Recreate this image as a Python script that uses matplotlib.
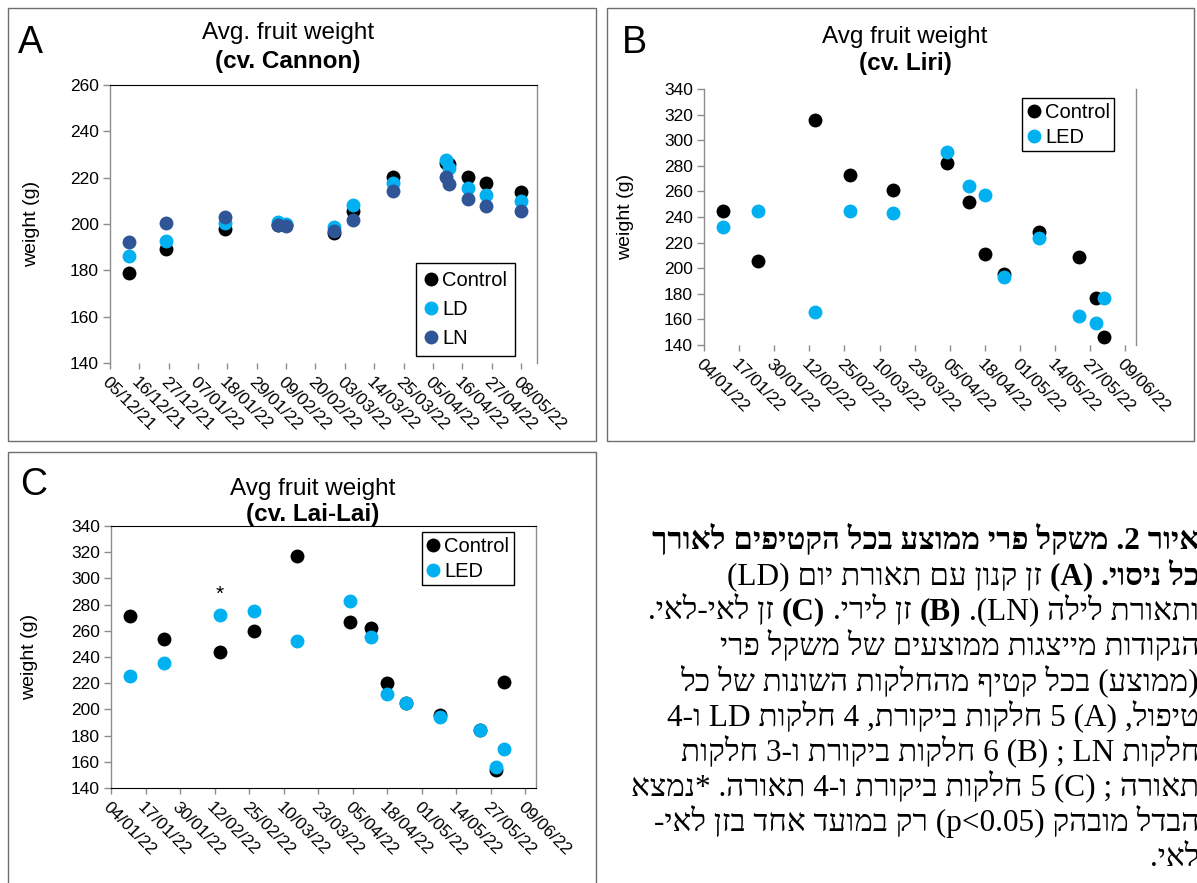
"""Avg fruit weight per harvest: Cannon, Liri and Lai-Lai trials with the Hebrew figure caption."""

import re

import matplotlib

matplotlib.use("Agg")
import matplotlib.dates as mdates
import matplotlib.pyplot as plt
import pandas as pd
from matplotlib.font_manager import FontProperties
from matplotlib.patches import Rectangle

W, H = 1197, 883

# ---- panel A, cv. Cannon (g) ----
cannon_dates = ["2021-12-12", "2021-12-26", "2022-01-17", "2022-02-06", "2022-02-09",
                "2022-02-27", "2022-03-06", "2022-03-21", "2022-04-10", "2022-04-11",
                "2022-04-18", "2022-04-25", "2022-05-08"]
cannon_control = [179.0, 189.0, 198.0, 199.5, 199.5, 196.0, 205.5, 220.4, 226.5, 226.0, 220.4, 217.8, 213.9]
cannon_ld = [186.1, 192.7, 200.5, 200.9, 199.8, 198.8, 208.4, 217.9, 227.6, 224.0, 215.6, 212.4, 209.9]
cannon_ln = [192.3, 200.5, 203.1, 199.5, 199.2, 196.9, 201.9, 214.3, 220.4, 217.2, 210.6, 207.7, 205.4]

# ---- panels B and C share harvest dates ----
harvest_dates = ["2022-01-11", "2022-01-24", "2022-02-14", "2022-02-27", "2022-03-15",
                 "2022-04-04", "2022-04-12", "2022-04-18", "2022-04-25", "2022-05-08",
                 "2022-05-23", "2022-05-29", "2022-06-01"]
liri_control = [244.8, 205.6, 316.1, 272.7, 261.0, 282.3, 251.6, 211.3, 195.4, 228.5, 208.7, 176.4, 146.3]
liri_led = [231.8, 244.8, 165.5, 244.8, 243.3, 291.1, 264.1, 257.3, 193.3, 223.3, 162.9, 157.5, 176.7]
lailai_control = [271.6, 254.0, 243.6, 259.8, 317.1, 266.7, 261.9, 220.2, 204.6, 196.0, 184.3, 153.7, 221.0]
lailai_led = [225.7, 235.7, 272.3, 274.9, 252.2, 283.0, 255.3, 211.5, 204.6, 194.2, 184.3, 155.8, 169.8]
signif_date = "2022-02-14"

# caption lines in logical (reading) order, pieces as (text, bold)
caption_lines = [
    [("איור 2. משקל פרי ממוצע בכל הקטיפים לאורך", True)],
    [("כל ניסוי. (A)", True), (" זן קנון עם תאורת יום (LD)", False)],
    [("ותאורת לילה (LN). ", False), ("(B)", True), (" זן לירי. ", False), ("(C)", True),
     (" זן לאי-לאי.", False)],
    [("הנקודות מייצגות ממוצעים של משקל פרי", False)],
    [("(ממוצע) בכל קטיף מהחלקות השונות של כל", False)],
    [("טיפול, (A) 5 חלקות ביקורת, 4 חלקות LD ו-4", False)],
    [("חלקות LN ; (B) 6 חלקות ביקורת ו-3 חלקות", False)],
    [("תאורה ; (C) 5 חלקות ביקורת ו-4 תאורה. *נמצא", False)],
    [("הבדל מובהק (p<0.05) רק במועד אחד בזן לאי-", False)],
    [("לאי.", False)],
]

BLACK = "#000000"
CYAN = "#00B0F0"
NAVY = "#2F5597"
GRAY = "#8C8C8C"
HEB_FONT = ["Liberation Serif", "DejaVu Sans"]

plt.rcParams["font.family"] = ["Liberation Sans", "DejaVu Sans"]

fig = plt.figure(figsize=(W / 100, H / 100), dpi=100)
fig.patch.set_facecolor("white")


def px_axes(left, top, right, bottom):
    return fig.add_axes([left / W, 1 - bottom / H, (right - left) / W, (bottom - top) / H])


def panel_box(left, top, right, bottom):
    fig.add_artist(Rectangle((left / W, 1 - bottom / H), (right - left) / W, (bottom - top) / H,
                             transform=fig.transFigure, fill=False, edgecolor="#6E6E6E", lw=1.0))


def style_axes(ax, ymax, start, step, nticks, top_line, bottom_line):
    start = pd.Timestamp(start)
    ticks = pd.date_range(start, periods=nticks, freq=f"{step}D")
    ax.set_xlim(start, start + pd.Timedelta(days=160))
    ax.set_xticks(ticks)
    ax.xaxis.set_major_formatter(mdates.DateFormatter("%d/%m/%y"))
    ax.set_ylim(140, ymax)
    ax.set_yticks(range(140, ymax + 1, 20))
    ax.tick_params(axis="y", direction="out", length=5, width=1, color=GRAY, labelsize=12.5, pad=3)
    ax.tick_params(axis="x", direction="out", length=4, width=1, color=GRAY, labelsize=12.5, pad=4)
    for lab in ax.get_xticklabels():
        lab.set_rotation(-45)
        lab.set_rotation_mode("anchor")
        lab.set_ha("left")
        lab.set_va("top")
    for side in ("left", "right"):
        ax.spines[side].set_color(GRAY)
        ax.spines[side].set_linewidth(1.0)
    ax.spines["top"].set_visible(top_line)
    ax.spines["top"].set_color(BLACK)
    ax.spines["bottom"].set_visible(bottom_line)
    ax.spines["bottom"].set_color(BLACK)
    ax.set_ylabel("weight (g)", fontsize=14)
    ax.yaxis.set_label_coords(-0.165, 0.5)


def dots(ax, dates, values, color, label):
    ax.plot(pd.to_datetime(dates), values, "o", ms=10, color=color, mew=0, label=label)


def legend(ax, x, y, spacing, pad):
    leg = ax.legend(loc="upper left", bbox_to_anchor=(x, y), fontsize=14.5, frameon=True,
                    fancybox=False, framealpha=1, edgecolor=BLACK, borderaxespad=0,
                    handlelength=0.7, handletextpad=0.2, labelspacing=spacing, borderpad=pad,
                    numpoints=1)
    leg.get_frame().set_linewidth(1.0)


def titles(cx, y1, y2, line1, line2):
    fig.text(cx / W, 1 - y1 / H, line1, ha="center", va="baseline", fontsize=17.5)
    fig.text(cx / W, 1 - y2 / H, line2, ha="center", va="baseline", fontsize=17.5, weight="bold")


# ---- panel A ----
panel_box(8, 8, 596, 441)
ax_a = px_axes(110, 85, 537, 363)
dots(ax_a, cannon_dates, cannon_control, BLACK, "Control")
dots(ax_a, cannon_dates, cannon_ld, CYAN, "LD")
dots(ax_a, cannon_dates, cannon_ln, NAVY, "LN")
style_axes(ax_a, 260, "2021-12-05", 11, 15, top_line=True, bottom_line=False)
legend(ax_a, 0.716, 0.359, 0.48, 0.4)
titles(288, 39, 68, "Avg. fruit weight", "(cv. Cannon)")
fig.text(18 / W, 1 - 53 / H, "A", fontsize=27, va="baseline")

# ---- panel B ----
panel_box(607, 8, 1194, 441)
ax_b = px_axes(704, 89, 1136, 345)
dots(ax_b, harvest_dates, liri_control, BLACK, "Control")
dots(ax_b, harvest_dates, liri_led, CYAN, "LED")
style_axes(ax_b, 340, "2022-01-04", 13, 13, top_line=False, bottom_line=False)
ax_b.yaxis.set_label_coords(-0.162, 0.5)
legend(ax_b, 0.737, 0.964, 0.3, 0.22)
titles(905, 43, 70, "Avg fruit weight", "(cv. Liri)")
fig.text(622 / W, 1 - 53 / H, "B", fontsize=27, va="baseline")

# ---- panel C ----
panel_box(8, 452, 596, 884)
ax_c = px_axes(111, 526, 536, 788)
dots(ax_c, harvest_dates, lailai_control, BLACK, "Control")
dots(ax_c, harvest_dates, lailai_led, CYAN, "LED")
style_axes(ax_c, 340, "2022-01-04", 13, 13, top_line=True, bottom_line=True)
ax_c.yaxis.set_label_coords(-0.172, 0.5)
legend(ax_c, 0.731, 0.976, 0.3, 0.22)
sig_value = lailai_led[harvest_dates.index(signif_date)]
ax_c.annotate("*", (pd.Timestamp(signif_date), sig_value), xytext=(0, 15), textcoords="offset points",
              ha="center", va="center", fontsize=15)
titles(313, 495, 521, "Avg fruit weight", "(cv. Lai-Lai)")
fig.text(20 / W, 1 - 495 / H, "C", fontsize=27, va="baseline")


# ---- Hebrew caption: matplotlib has no bidi, so lay the runs out right to left by hand ----
LTR_RUN = re.compile(r"[A-Za-z0-9](?:[A-Za-z0-9.<]*[A-Za-z0-9])?")
MIRROR = str.maketrans("()", ")(")


def visual(text):
    parts = []
    pos = 0
    for m in LTR_RUN.finditer(text):
        parts.append(text[pos:m.start()][::-1].translate(MIRROR))
        parts.append(m.group())
        pos = m.end()
    parts.append(text[pos:][::-1].translate(MIRROR))
    return "".join(reversed(parts))


CAP_RIGHT = 1199
CAP_TOP = 549
CAP_STEP = 35.2
CAP_SIZE = 22.5

renderer = fig.canvas.get_renderer()


def width(s, prop):
    return renderer.get_text_width_height_descent(s, prop, ismath=False)[0]


for i, pieces in enumerate(caption_lines):
    y = 1 - (CAP_TOP + i * CAP_STEP) / H
    x = CAP_RIGHT
    for text, bold in pieces:
        prop = FontProperties(family=HEB_FONT, size=CAP_SIZE, weight="bold" if bold else "normal")
        space = width("a a", prop) - width("aa", prop)
        shown = visual(text)
        core = shown.strip(" ")
        lead = len(shown) - len(shown.lstrip(" "))
        trail = len(shown) - len(shown.rstrip(" "))
        x -= trail * space
        fig.text(x / W, y, core, fontproperties=prop, ha="right", va="baseline")
        x -= width(core, prop) + lead * space

fig.savefig("out.png", dpi=100, facecolor="white")
